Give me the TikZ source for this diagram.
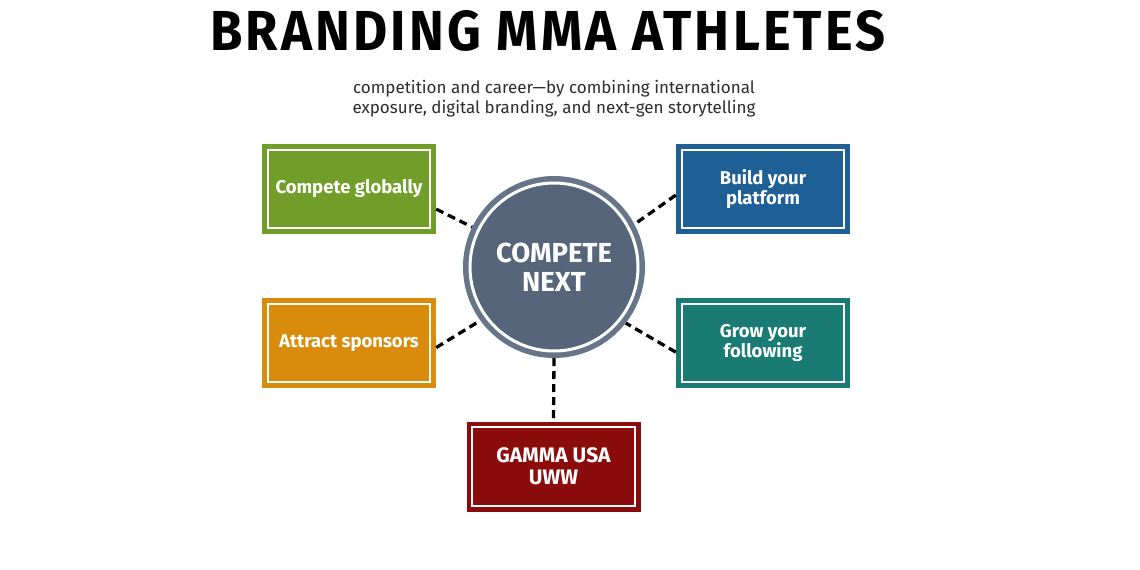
\documentclass[tikz,border=0pt]{standalone}
\usepackage{fontspec}
\setmainfont{Fira Sans}
\newfontfamily\titlefont[LetterSpace=6]{Fira Sans}
\definecolor{cgreen}{RGB}{113,158,40}
\definecolor{corange}{RGB}{217,140,12}
\definecolor{cblue}{RGB}{30,95,150}
\definecolor{cteal}{RGB}{26,122,116}
\definecolor{cred}{RGB}{138,12,12}
\definecolor{cring}{RGB}{102,117,135}
\definecolor{cdisk}{RGB}{86,101,121}
\definecolor{subgrey}{RGB}{45,45,45}
\tikzset{
  card/.style={fill=#1, minimum width=174pt, minimum height=90pt, inner sep=0pt,
    text=white, font=\fontsize{18.5}{20}\selectfont\bfseries, align=center},
  frame/.style={draw=white, line width=2pt},
  link/.style={draw=black, line width=3.3pt, dash pattern=on 8pt off 5pt}
}
\begin{document}
\begin{tikzpicture}[x=1pt,y=-1pt]
\useasboundingbox[fill=white] (0,0) rectangle (1140,570);
% title
\node[anchor=north, inner sep=0pt] (title) at (548,10)
  {\resizebox{675pt}{40pt}{\titlefont\bfseries BRANDING MMA ATHLETES}};
\node[anchor=center, inner sep=0pt, text=subgrey, align=center,
  font=\fontsize{17}{20}\selectfont] (sub) at (554,99)
  {competition and career---by combining international\\
   exposure, digital branding, and next-gen storytelling};
% centre
\node[circle, fill=cring, minimum size=182pt, inner sep=0pt] (c) at (554,267) {};
\fill[cdisk] (c.center) circle[radius=83pt];
\draw[white, line width=3pt] (c.center) circle[radius=84pt];
\node[text=white, font=\fontsize{27.5}{29}\selectfont\bfseries, align=center] (ct) at (c.center) {COMPETE\\NEXT};
% cards
\node[card=cgreen] (cg) at (349,189) {Compete globally};
\node[card=corange] (as) at (349,343) {Attract sponsors};
\node[card=cblue] (bp) at (763,189) {Build your\\platform};
\node[card=cteal] (gf) at (763,343) {Grow your\\following};
\node[card=cred, font=\fontsize{21}{22}\selectfont\bfseries] (gu) at (553.5,466.5) {GAMMA USA\\UWW};
\foreach \n in {cg,as,bp,gf,gu}
  \draw[frame] ([shift={(6pt,-6pt)}]\n.north west) rectangle ([shift={(-6pt,6pt)}]\n.south east);
% links
\draw[link] (cg.-13.6) -- (c.154);
\draw[link] (as.-3.3) -- (c.216);
\draw[link] (bp.184.6) -- (c.28);
\draw[link] (gf.186) -- (c.-38);
\draw[link] (c.south) -- (gu.north);
\end{tikzpicture}
\end{document}
